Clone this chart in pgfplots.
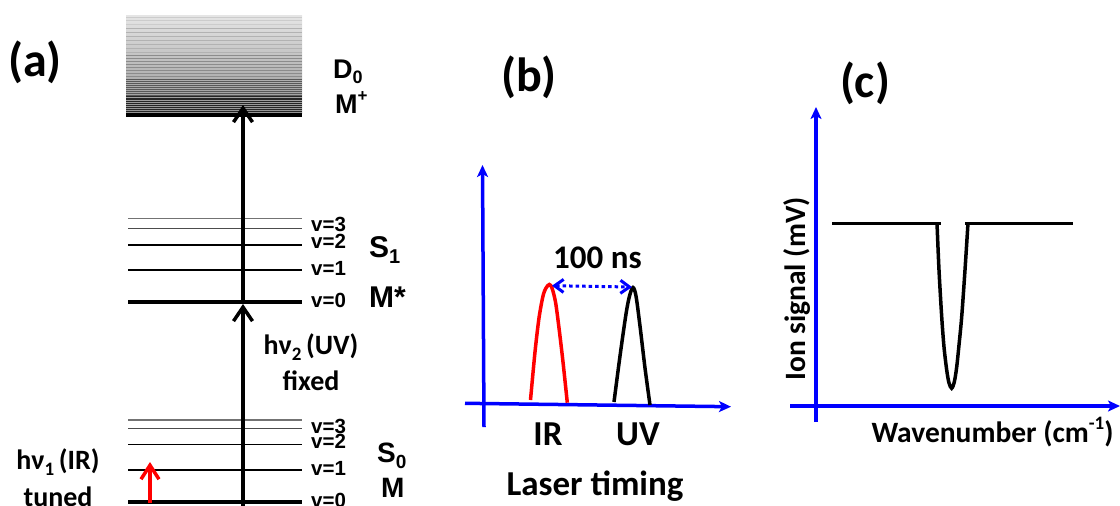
\documentclass[border=0pt]{standalone}
\usepackage{pgfplots}
\pgfplotsset{compat=1.18}
\usepackage{fontspec}
\setmainfont{Carlito}
\newfontfamily\arialf{Liberation Sans}[BoldFont={* Bold}]
\usetikzlibrary{arrows.meta}
\definecolor{pblue}{RGB}{0,0,255}
\definecolor{pred}{RGB}{255,0,0}
\newcommand{\fs}[1]{\fontsize{#1}{#1}\selectfont}
\newcommand{\sub}[2]{\raisebox{-0.22em}{\fs{#1}#2}}
\newcommand{\sups}[2]{\raisebox{0.42em}{\fs{#1}#2}}
\newcommand{\AL}[2]{{\arialf\bfseries\fs{#1}#2}}
\begin{document}
\begin{tikzpicture}
\useasboundingbox (0,-506pt) rectangle (1120pt,0pt);
\clip (0,-506pt) rectangle (1120pt,0pt);
\begin{axis}[at={(0,0)}, anchor=north west, width=1120pt, height=506pt,
  scale only axis, xmin=0, xmax=1120, ymin=0, ymax=506, y dir=reverse,
  hide axis, clip=false]
% ---------- panel (a): D0 continuum ----------
\fill[top color=black!10, bottom color=black!42] (axis cs:126,15) rectangle (axis cs:302,113);
\pgfplotsinvokeforeach{17,20,24}{\draw[black!20, line width=0.8pt] (axis cs:126,#1) -- (axis cs:302,#1);}
\pgfplotsinvokeforeach{28,32,36,40,44,48,52}{\draw[black!30, line width=0.9pt] (axis cs:126,#1) -- (axis cs:302,#1);}
\pgfplotsinvokeforeach{55,58,61,64,67,70,73,76}{\draw[black!45, line width=0.9pt] (axis cs:126,#1) -- (axis cs:302,#1);}
\pgfplotsinvokeforeach{79,81,83,85,87,89,91,93,95}{\draw[black!65, line width=0.9pt] (axis cs:126,#1) -- (axis cs:302,#1);}
\pgfplotsinvokeforeach{96.5,98,99.5,101,103,105,107,109,111}{\draw[black!85, line width=0.9pt] (axis cs:126,#1) -- (axis cs:302,#1);}
\addplot[black, line width=4.5pt, forget plot] coordinates {(126,115) (302,115)};
% ---------- S1 levels ----------
\addplot[black!55, line width=1.2pt] coordinates {(128,218.5) (302,218.5)};
\addplot[black!70, line width=1.4pt] coordinates {(128,228.3) (302,228.3)};
\addplot[black, line width=1.3pt] coordinates {(128,245) (302,245)};
\addplot[black, line width=1.5pt] coordinates {(128,270) (302,270)};
\addplot[black, line width=4pt] coordinates {(128,302) (302,302)};
% ---------- S0 levels ----------
\addplot[black!55, line width=1.2pt] coordinates {(128,420) (302,420)};
\addplot[black!70, line width=1.3pt] coordinates {(128,428.3) (302,428.3)};
\addplot[black, line width=1.5pt] coordinates {(128,444.3) (302,444.3)};
\addplot[black, line width=1.5pt] coordinates {(128,470) (302,470)};
\addplot[black, line width=4.5pt] coordinates {(128,502) (302,502)};
% ---------- arrows ----------
\addplot[black, line width=3.5pt, -{Straight Barb[length=14pt,width=19pt]}] coordinates {(243,506) (243,304)};
\addplot[black, line width=3.5pt, -{Straight Barb[length=14pt,width=19pt]}] coordinates {(243,302) (243,105)};
\addplot[pred, line width=3.5pt, -{Straight Barb[length=14pt,width=18pt]}] coordinates {(150,503) (150,462)};
% ---------- level labels ----------
\node[anchor=base west, inner sep=0] at (axis cs:333,78) {\AL{27}{D\sub{18}{0}}};
\node[anchor=base west, inner sep=0] at (axis cs:335,113) {\AL{27}{M\sups{17}{+}}};
\node[anchor=base west, inner sep=0] at (axis cs:311,231.7) {\AL{20.5}{v=3}};
\node[anchor=base west, inner sep=0] at (axis cs:311,248) {\AL{20.5}{v=2}};
\node[anchor=base west, inner sep=0] at (axis cs:311,275) {\AL{20.5}{v=1}};
\node[anchor=base west, inner sep=0] at (axis cs:311,307) {\AL{20.5}{v=0}};
\node[anchor=base west, inner sep=0] at (axis cs:311,433) {\AL{20.5}{v=3}};
\node[anchor=base west, inner sep=0] at (axis cs:311,448) {\AL{20.5}{v=2}};
\node[anchor=base west, inner sep=0] at (axis cs:311,475) {\AL{20.5}{v=1}};
\node[anchor=base west, inner sep=0] at (axis cs:311,507) {\AL{20.5}{v=0}};
\node[anchor=base west, inner sep=0] at (axis cs:369,257) {\AL{30}{S\sub{20}{1}}};
\node[anchor=base west, inner sep=0] at (axis cs:369,307) {\AL{30}{M*}};
\node[anchor=base west, inner sep=0] at (axis cs:377,462) {\AL{28}{S\sub{19}{0}}};
\node[anchor=base west, inner sep=0] at (axis cs:381,497) {\AL{28}{M}};
\node[font=\bfseries\fs{28}] at (axis cs:58,462) {hν\sub{19}{1}\,(IR)};
\node[font=\bfseries\fs{28}, anchor=base, inner sep=0] at (axis cs:58,506) {tuned};
\node[font=\bfseries\fs{28}] at (axis cs:311,347) {hν\sub{19}{2}\,(UV)};
\node[font=\bfseries\fs{28}] at (axis cs:311,381) {fixed};
\node[font=\bfseries\fs{48}] at (axis cs:35,62) {(a)};
% ---------- panel (b) ----------
\node[font=\bfseries\fs{48}] at (axis cs:529,77) {(b)};
\addplot[pblue, line width=3.5pt, -{Stealth[length=12pt,width=11pt,inset=3pt]}] coordinates {(484,427) (482.5,165)};
\addplot[pblue, line width=3.5pt, -{Stealth[length=12pt,width=11pt,inset=3pt]}] coordinates {(465,403.3) (731,406.7)};
\addplot[pred, line width=3.5pt, smooth, tension=0.5] coordinates {(530.5,400) (535,352) (539,318) (543,296) (546,288) (549.3,284.5) (552,288) (555.5,302) (559,328) (563,362) (567.3,402.7)};
\addplot[black, line width=3.5pt, smooth, tension=0.5] coordinates {(614,402) (620,356) (626,314) (629.5,296) (633,287.5) (636,296) (640,326) (645,368) (650,405)};
\addplot[pblue, line width=3pt, dash pattern=on 3.5pt off 3pt, {Straight Barb[length=9pt,width=13pt]}-{Straight Barb[length=9pt,width=13pt]}] coordinates {(552,285.7) (632,287)};
\node[font=\bfseries\fs{33}] at (axis cs:597.5,257.5) {100 ns};
\node[font=\bfseries\fs{35}] at (axis cs:548,434) {IR};
\node[font=\bfseries\fs{35}] at (axis cs:638,434) {UV};
\node[font=\bfseries\fs{35}, anchor=base, inner sep=0] at (axis cs:595,495) {Laser timing};
% ---------- panel (c) ----------
\node[font=\bfseries\fs{48}] at (axis cs:865,83) {(c)};
\addplot[pblue, line width=3.5pt, -{Stealth[length=12pt,width=11pt,inset=3pt]}] coordinates {(816,422) (816,107)};
\addplot[pblue, line width=3.5pt, -{Stealth[length=12pt,width=11pt,inset=3pt]}] coordinates {(790,406) (1120,406)};
\addplot[black, line width=3.5pt] coordinates {(832,223.3) (941,223.3)};
\addplot[black, line width=3.5pt] coordinates {(965,223.3) (1073,223.3)};
\addplot[black, line width=3.5pt, smooth, tension=0.5] coordinates {(937,223) (939,270) (941.7,316.7) (944,347) (946.7,370) (949,383) (951.7,388.3) (954.3,382) (956.7,367) (959,345) (961.7,316.7) (965,270) (968,223)};
\node[font=\bfseries\fs{29.5}, rotate=90] at (axis cs:797.5,289) {Ion signal (mV)};
\node[font=\bfseries\fs{29.5}] at (axis cs:992.5,432) {Wavenumber (cm\sups{19}{-1})};
\end{axis}
\end{tikzpicture}
\end{document}
